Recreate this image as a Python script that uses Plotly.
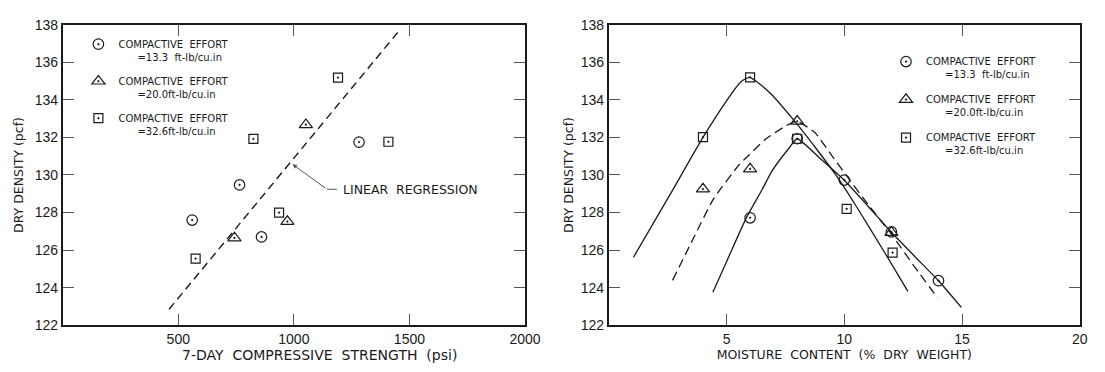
import plotly.graph_objects as go

# ---------------- Left chart: dry density vs 7-day compressive strength ----------------
left_circle_x = [560, 765, 860, 1282]
left_circle_y = [127.6, 129.47, 126.7, 131.75]
left_tri_x = [743, 972, 1052]
left_tri_y = [126.65, 127.52, 132.68]
left_sq_x = [575, 825, 936, 1191, 1409]
left_sq_y = [125.55, 131.92, 128.0, 135.18, 131.77]
reg_x = [460, 1460]
reg_y = [122.85, 137.75]

# ---------------- Right chart: dry density vs moisture content ----------------
right_circle_x = [6, 8, 10, 12, 14]
right_circle_y = [127.72, 131.93, 129.73, 126.97, 124.37]
right_tri_x = [4, 6, 8, 12]
right_tri_y = [129.25, 130.32, 132.86, 126.94]
right_sq_x = [4, 6, 8, 10.1, 12.05]
right_sq_y = [132.02, 135.2, 131.93, 128.2, 125.87]

curve_sq_x = [1.05, 2.6, 4.0, 5.0, 5.6, 5.85, 6.0, 6.3, 6.9, 7.9, 8.9, 9.7, 10.5, 11.7, 12.7]
curve_sq_y = [125.62, 128.95, 132.0, 133.95, 134.95, 135.15, 135.2, 134.95, 134.3, 132.85, 131.25, 129.9, 128.35, 125.9, 123.8]
curve_circ_x = [4.42, 5.0, 5.83, 6.5, 6.94, 7.64, 8.0, 9.0, 10.0, 11.0, 12.0, 13.0, 14.0, 14.97]
curve_circ_y = [123.76, 125.38, 127.69, 129.2, 130.23, 131.41, 131.93, 130.85, 129.72, 128.35, 126.95, 125.65, 124.37, 122.95]
curve_tri_x = [2.71, 3.61, 4.44, 5.55, 5.97, 6.67, 7.5, 7.98, 8.75, 9.44, 10.14, 11.0, 12.0, 13.0, 13.96]
curve_tri_y = [124.39, 126.67, 128.71, 130.57, 131.08, 131.92, 132.6, 132.86, 132.26, 131.08, 129.89, 128.44, 126.85, 125.08, 123.46]

NB = "\u00a0"
legend_names = [
    "COMPACTIVE" + NB * 2 + "EFFORT<br>" + NB * 6 + "=13.3" + NB * 2 + "ft-lb/cu.in",
    "COMPACTIVE" + NB * 2 + "EFFORT<br>" + NB * 6 + "=20.0ft-lb/cu.in",
    "COMPACTIVE" + NB * 2 + "EFFORT<br>" + NB * 6 + "=32.6ft-lb/cu.in",
]
left_xtitle = "7-DAY" + NB * 2 + "COMPRESSIVE" + NB * 2 + "STRENGTH" + NB * 2 + "(psi)"
right_xtitle = "MOISTURE" + NB * 2 + "CONTENT" + NB * 2 + "(%" + NB * 2 + "DRY" + NB * 2 + "WEIGHT)"
ytitle = "DRY" + NB + "DENSITY" + NB + "(pcf)"

INK = "#1a1a1a"
FONT = "Liberation Sans, Arial, sans-serif"
WFONT = "DejaVu Sans, Verdana, sans-serif"

def mk(symbol, size):
    return dict(symbol=symbol, size=size, color=INK, line=dict(color=INK, width=1.2))

CIRC = mk("circle-open-dot", 10.5)
TRI = mk("triangle-up-open-dot", 11.5)
SQ = mk("square-open-dot", 9)

fig = go.Figure()

# left chart
fig.add_trace(go.Scatter(x=reg_x, y=reg_y, mode="lines", showlegend=False,
                         line=dict(color=INK, width=1.4, dash="8px,5px"), xaxis="x", yaxis="y"))
fig.add_trace(go.Scatter(x=left_circle_x, y=left_circle_y, mode="markers", name=legend_names[0],
                         marker=CIRC, xaxis="x", yaxis="y", legend="legend", legendgroup="a"))
fig.add_trace(go.Scatter(x=left_tri_x, y=left_tri_y, mode="markers", name=legend_names[1],
                         marker=TRI, xaxis="x", yaxis="y", legend="legend", legendgroup="b"))
fig.add_trace(go.Scatter(x=left_sq_x, y=left_sq_y, mode="markers", name=legend_names[2],
                         marker=SQ, xaxis="x", yaxis="y", legend="legend", legendgroup="c"))

# right chart curves
fig.add_trace(go.Scatter(x=curve_sq_x, y=curve_sq_y, mode="lines", showlegend=False,
                         line=dict(color=INK, width=1.3, shape="spline", smoothing=0.5), xaxis="x2", yaxis="y2"))
fig.add_trace(go.Scatter(x=curve_circ_x, y=curve_circ_y, mode="lines", showlegend=False,
                         line=dict(color=INK, width=1.3, shape="spline", smoothing=0.5), xaxis="x2", yaxis="y2"))
fig.add_trace(go.Scatter(x=curve_tri_x, y=curve_tri_y, mode="lines", showlegend=False,
                         line=dict(color=INK, width=1.3, dash="9px,5px", shape="spline", smoothing=0.5),
                         xaxis="x2", yaxis="y2"))
# right chart points
fig.add_trace(go.Scatter(x=right_circle_x, y=right_circle_y, mode="markers", name=legend_names[0],
                         marker=CIRC, xaxis="x2", yaxis="y2", legend="legend2", legendgroup="d"))
fig.add_trace(go.Scatter(x=right_tri_x, y=right_tri_y, mode="markers", name=legend_names[1],
                         marker=TRI, xaxis="x2", yaxis="y2", legend="legend2", legendgroup="e"))
fig.add_trace(go.Scatter(x=right_sq_x, y=right_sq_y, mode="markers", name=legend_names[2],
                         marker=SQ, xaxis="x2", yaxis="y2", legend="legend2", legendgroup="f"))

axis_common = dict(showline=True, linecolor=INK, linewidth=1.6, mirror="ticks",
                   ticks="inside", ticklen=11, tickwidth=1, tickcolor="#555",
                   showgrid=False, zeroline=False,
                   tickfont=dict(family=FONT, size=14, color=INK),
                   title_font=dict(family=WFONT, size=12.5, color=INK))

fig.update_layout(
    width=1105, height=372,
    margin=dict(l=0, r=0, t=0, b=0),
    paper_bgcolor="white", plot_bgcolor="white",
    xaxis=dict(domain=[0.0576, 0.4821], range=[0, 2000], tickvals=[500, 1000, 1500, 2000],
               anchor="y", **axis_common),
    yaxis=dict(domain=[0.1089, 0.953], range=[122, 138], dtick=2, anchor="x",
               title=dict(text=ytitle, standoff=8), **axis_common),
    xaxis2=dict(domain=[0.559, 0.9916], range=[0, 20], tickvals=[5, 10, 15, 20], anchor="y2",
                title=dict(text=right_xtitle, standoff=4), **axis_common),
    yaxis2=dict(domain=[0.1089, 0.953], range=[122, 138], dtick=2, anchor="x2",
                title=dict(text=ytitle, standoff=4), **axis_common),
    legend=dict(x=0.072, y=0.935, xanchor="left", yanchor="top", bgcolor="rgba(0,0,0,0)",
                font=dict(family=WFONT, size=10, color=INK), valign="top", tracegroupgap=8),
    legend2=dict(x=0.8136, y=0.886, xanchor="left", yanchor="top", bgcolor="rgba(0,0,0,0)",
                 font=dict(family=WFONT, size=10, color=INK), valign="top", tracegroupgap=9),
    showlegend=True,
)

# left x-axis title (placed slightly right of centre, as in the original)
fig.add_annotation(x=0.293, y=0.026, xref="paper", yref="paper", text=left_xtitle, showarrow=False,
                   xanchor="center", yanchor="middle", font=dict(family=WFONT, size=14, color=INK))

# Linear regression label with leader
tip_x, tip_y = 994, 130.57
elbow_x, elbow_y = 1143, 129.24
lead_end_x = 1186
fig.add_shape(type="line", x0=elbow_x, y0=elbow_y, x1=lead_end_x, y1=elbow_y, xref="x", yref="y",
              line=dict(color="#555", width=1))
fig.add_annotation(x=tip_x, y=tip_y, ax=elbow_x, ay=elbow_y, axref="x", ayref="y", xref="x", yref="y",
                   text="", showarrow=True, arrowhead=2, arrowsize=0.9, arrowwidth=1, arrowcolor="#555")
fig.add_annotation(x=1202, y=elbow_y, xref="x", yref="y", text="LINEAR" + NB * 2 + "REGRESSION",
                   showarrow=False, xanchor="left", yanchor="middle",
                   font=dict(family=WFONT, size=12.5, color=INK))

fig.write_html("out.html")
